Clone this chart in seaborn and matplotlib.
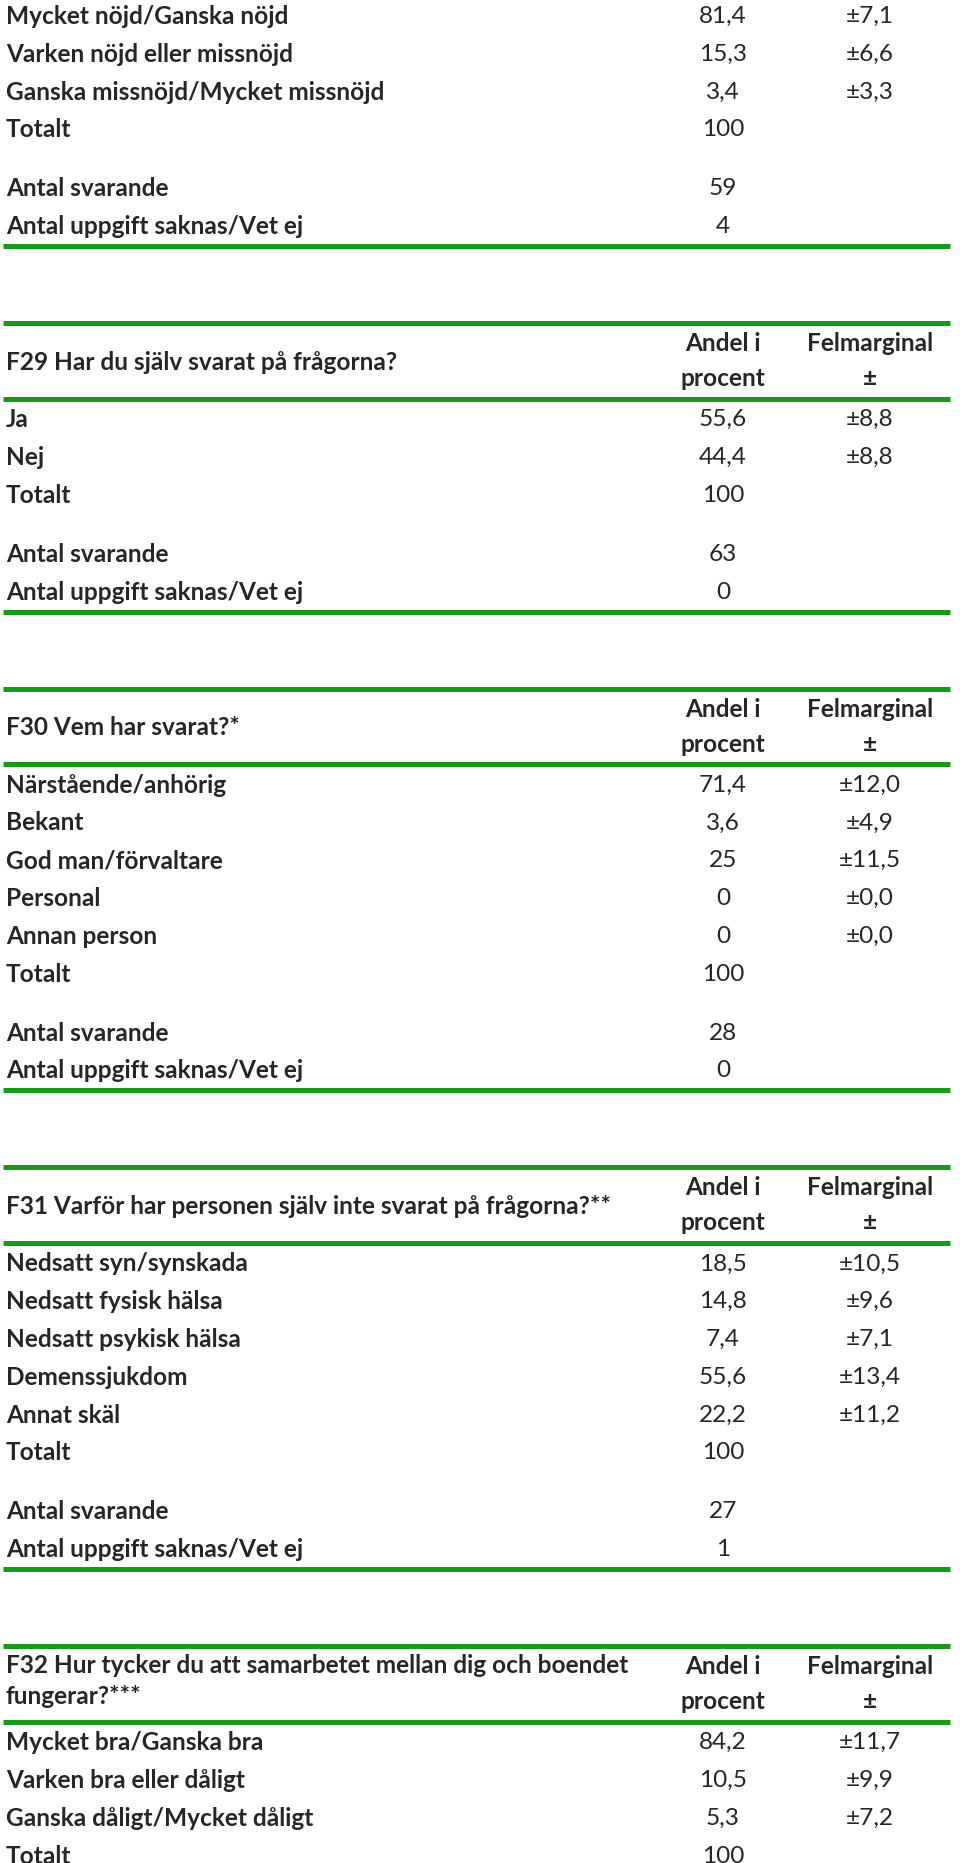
import matplotlib.pyplot as plt
import seaborn as sns

# Föregående fråga (övre delen avskuren)
f28_kategorier = ["Mycket nöjd/Ganska nöjd", "Varken nöjd eller missnöjd", "Ganska missnöjd/Mycket missnöjd"]
f28_andel = [81.4, 15.3, 3.4]
f28_fel = [7.1, 6.6, 3.3]
f28_svarande = 59
f28_saknas = 4

f29_fraga = ["F29 Har du själv svarat på frågorna?"]
f29_kategorier = ["Ja", "Nej"]
f29_andel = [55.6, 44.4]
f29_fel = [8.8, 8.8]
f29_svarande = 63
f29_saknas = 0

f30_fraga = ["F30 Vem har svarat?*"]
f30_kategorier = ["Närstående/anhörig", "Bekant", "God man/förvaltare", "Personal", "Annan person"]
f30_andel = [71.4, 3.6, 25, 0, 0]
f30_fel = [12.0, 4.9, 11.5, 0.0, 0.0]
f30_svarande = 28
f30_saknas = 0

f31_fraga = ["F31 Varför har personen själv inte svarat på frågorna?**"]
f31_kategorier = ["Nedsatt syn/synskada", "Nedsatt fysisk hälsa", "Nedsatt psykisk hälsa", "Demenssjukdom", "Annat skäl"]
f31_andel = [18.5, 14.8, 7.4, 55.6, 22.2]
f31_fel = [10.5, 9.6, 7.1, 13.4, 11.2]
f31_svarande = 27
f31_saknas = 1

f32_fraga = ["F32 Hur tycker du att samarbetet mellan dig och boendet", "fungerar?***"]
f32_kategorier = ["Mycket bra/Ganska bra", "Varken bra eller dåligt", "Ganska dåligt/Mycket dåligt"]
f32_andel = [84.2, 10.5, 5.3]
f32_fel = [11.7, 9.9, 7.2]

totalt = 100

sns.set_theme(style="white")
plt.rcParams["font.family"] = ["Lato", "DejaVu Sans"]

GREEN = "#179a17"
FS = 17.6
ROW = 37.8
X_TEXT = 6
X_ANDEL = 723
X_FEL = 870


def fmt_andel(v):
    return f"{v:g}".replace(".", ",")


def fmt_fel(v):
    return "±" + f"{v:.1f}".replace(".", ",")


fig = plt.figure(figsize=(9.6, 18.63), dpi=100)
ax = fig.add_axes([0, 0, 1, 1])
ax.set_xlim(0, 960)
ax.set_ylim(1863, 0)
ax.axis("off")


def green_line(y):
    ax.plot([3, 950], [y, y], color=GREEN, lw=3.6, solid_capstyle="butt")


def block(y, fraga, kategorier, andel, fel, svarande=None, saknas=None):
    # y = övre gröna linjen (None för avskuret block)
    if fraga is not None:
        green_line(y)
        if len(fraga) == 1:
            ax.text(X_TEXT, y + 39, fraga[0], fontsize=FS, fontweight="bold", va="center")
        else:
            ax.text(X_TEXT, y + 19.5, fraga[0], fontsize=FS, fontweight="bold", va="center")
            ax.text(X_TEXT, y + 50, fraga[1], fontsize=FS, fontweight="bold", va="center")
        ax.text(X_ANDEL, y + 20.5, "Andel i", fontsize=FS, fontweight="bold", ha="center", va="center")
        ax.text(X_ANDEL, y + 55.5, "procent", fontsize=FS, fontweight="bold", ha="center", va="center")
        ax.text(X_FEL, y + 20.5, "Felmarginal", fontsize=FS, fontweight="bold", ha="center", va="center")
        ax.text(X_FEL, y + 55.5, "±", fontsize=FS, fontweight="bold", ha="center", va="center")
        y += 75.5
        green_line(y)
        ry = y + 21
    else:
        ry = y
    for i, (kat, a, f) in enumerate(zip(kategorier, andel, fel)):
        yy = ry + i * ROW
        ax.text(X_TEXT, yy, kat, fontsize=FS, fontweight="bold", va="center")
        ax.text(X_ANDEL, yy, fmt_andel(a), fontsize=FS, ha="center", va="center")
        ax.text(X_FEL, yy, fmt_fel(f), fontsize=FS, ha="center", va="center")
    yy = ry + len(kategorier) * ROW
    ax.text(X_TEXT, yy, "Totalt", fontsize=FS, fontweight="bold", va="center")
    ax.text(X_ANDEL, yy, str(totalt), fontsize=FS, ha="center", va="center")
    if svarande is None:
        return yy
    yy += 59
    ax.text(X_TEXT, yy, "Antal svarande", fontsize=FS, fontweight="bold", va="center")
    ax.text(X_ANDEL, yy, str(svarande), fontsize=FS, ha="center", va="center")
    yy += ROW
    ax.text(X_TEXT, yy, "Antal uppgift saknas/Vet ej", fontsize=FS, fontweight="bold", va="center")
    ax.text(X_ANDEL, yy, str(saknas), fontsize=FS, ha="center", va="center")
    yy += 19.5
    green_line(yy)
    return yy + 77


y = block(16.5, None, f28_kategorier, f28_andel, f28_fel, f28_svarande, f28_saknas)
y = block(y, f29_fraga, f29_kategorier, f29_andel, f29_fel, f29_svarande, f29_saknas)
y = block(y, f30_fraga, f30_kategorier, f30_andel, f30_fel, f30_svarande, f30_saknas)
y = block(y, f31_fraga, f31_kategorier, f31_andel, f31_fel, f31_svarande, f31_saknas)
block(y, f32_fraga, f32_kategorier, f32_andel, f32_fel)

fig.savefig("out.png", dpi=100, facecolor="white")
